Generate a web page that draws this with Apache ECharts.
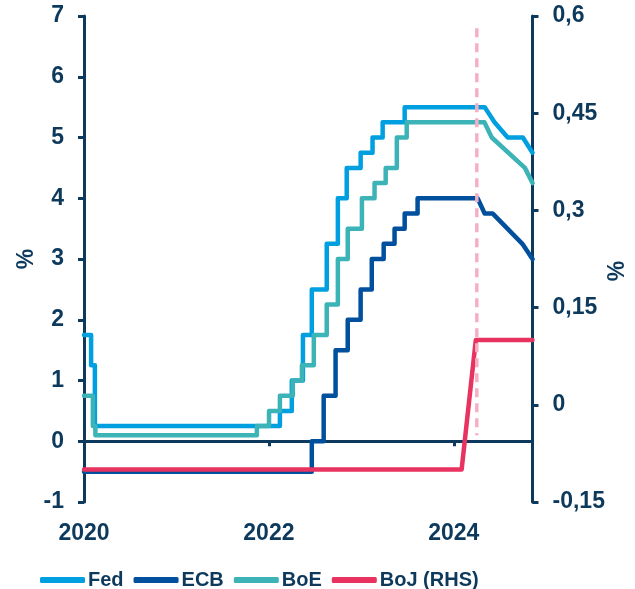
<!DOCTYPE html>
<html>
<head>
<meta charset="utf-8">
<script src="https://cdn.jsdelivr.net/npm/echarts@6/dist/echarts.min.js"></script>
<style>html,body{margin:0;padding:0;background:#fff}#c{width:635px;height:589px}</style>
</head>
<body>
<div id="c"></div>
<script>
// ---- data (change dates / values) ----
const fedDates = ['2020-01-01','2020-01-29','2020-02-13','2022-02-13','2022-04-01','2022-05-15','2022-06-19','2022-08-17','2022-09-30','2022-11-04','2022-12-29','2023-02-14','2023-03-26','2023-06-21'];
const fedRates = [1.75,1.25,0.25,0.5,1.0,1.75,2.5,3.25,4.0,4.5,4.75,5.0,5.25,5.5];
const fedFcDates = ['2024-05-02','2024-06-10','2024-08-01','2024-09-30','2024-11-07'];
const fedFcRates = [5.5,5.25,5.0,5.0,4.75];

const ecbDates = ['2020-01-01','2022-06-19','2022-08-05','2022-09-21','2022-11-08','2022-12-29','2023-02-11','2023-03-30','2023-05-12','2023-06-21','2023-08-11'];
const ecbRates = [-0.5,0.0,0.75,1.5,2.0,2.5,3.0,3.25,3.5,3.75,4.0];
const ecbFcDates = ['2024-04-04','2024-05-02','2024-06-02','2024-09-28','2024-11-07'];
const ecbFcRates = [4.0,3.75,3.75,3.25,3.0];

const boeDates = ['2020-01-01','2020-02-05','2020-02-15','2021-11-14','2022-01-01','2022-02-13','2022-04-05','2022-05-11','2022-06-27','2022-08-17','2022-09-30','2022-11-08','2023-01-03','2023-02-22','2023-04-07','2023-05-21','2023-06-29'];
const boeRates = [0.75,0.25,0.1,0.25,0.5,0.75,1.0,1.25,1.75,2.25,3.0,3.5,4.0,4.25,4.5,5.0,5.25];
const boeFcDates = ['2024-05-01','2024-05-30','2024-10-08','2024-11-07'];
const boeFcRates = [5.25,5.0,4.5,4.25];

const bojDates = ['2020-01-01','2024-02-01','2024-03-28','2024-11-07'];
const bojRates = [-0.1,-0.1,0.1,0.1];

const todayDate = '2024-04-01';
const todayRange = [6.8, 0.1];

const xStart = '2020-01-01';
const xEnd = '2024-11-07';
const leftTicks = {min: -1, max: 7, interval: 1};
const rightTicks = {min: -0.15, max: 0.6, interval: 0.15};
const legendNames = ['Fed','ECB','BoE','BoJ (RHS)'];

// ---- helpers ----
function toYear(d){
  return 2020 + (Date.parse(d + 'T00:00:00Z') - Date.UTC(2020,0,1)) / (365.25*864e5);
}
function stepSeries(dates, rates, fcDates, fcRates){
  const pts = [];
  for (let i = 0; i < dates.length; i++){
    const x = toYear(dates[i]);
    if (i > 0) pts.push([x, rates[i-1]]);
    pts.push([x, rates[i]]);
  }
  for (let i = 0; i < fcDates.length; i++) pts.push([toYear(fcDates[i]), fcRates[i]]);
  return pts;
}
function linePts(dates, rates){ return dates.map((d,i)=>[toYear(d), rates[i]]); }

const NAVY = '#0D3A5C';
const FONT = 'Liberation Sans, Arial, sans-serif';
const txt = {color: NAVY, fontFamily: FONT, fontWeight: 'bold', fontSize: 23};
const colors = {Fed:'#009FE0', ECB:'#00509E', BoE:'#3CB4B7', BoJ:'#E8325F'};

const chart = echarts.init(document.getElementById('c'), null, {renderer:'canvas'});
const xMin = toYear(xStart), xMax = toYear(xEnd);

function lineSeries(name, data, color, yIdx){
  return {name, type:'line', data, xAxisIndex:0, yAxisIndex:yIdx, showSymbol:false, symbol:'none',
    lineStyle:{color, width:4.5, join:'round', cap:'round'}, itemStyle:{color}, animation:false, silent:true};
}

chart.setOption({
  animation:false,
  grid:{left:84, right:102.5, top:16, bottom:87, containLabel:false, outerBoundsMode:'none'},
  legend:{
    data: legendNames, left:35, top:565, itemWidth:45, itemHeight:6, itemGap:10,
    icon:'roundRect',
    textStyle:{color:NAVY, fontFamily:FONT, fontWeight:'bold', fontSize:20, padding:[0,0,0,-2]}
  },
  xAxis:[
    {type:'value', min:xMin, max:xMax, interval:2, position:'bottom',
     axisLine:{show:false, onZero:false}, axisTick:{show:false}, splitLine:{show:false},
     axisLabel:Object.assign({margin:20, showMaxLabel:false,
       formatter:v => Math.abs(v - Math.round(v)) < 1e-6 ? String(Math.round(v)) : ''}, txt)},
    {type:'value', min:xMin, max:xMax, interval:2, position:'bottom',
     axisLine:{show:true, onZero:true, lineStyle:{color:NAVY, width:3}},
     axisTick:{show:true, inside:false, length:5, lineStyle:{color:NAVY, width:3}},
     axisLabel:{show:false}, splitLine:{show:false}}
  ],
  yAxis:[
    {type:'value', min:leftTicks.min, max:leftTicks.max, interval:leftTicks.interval, position:'left',
     name:'%', nameLocation:'middle', nameGap:46, nameRotate:90, nameMoveOverlap:false, nameTextStyle:txt,
     axisLine:{show:true, onZero:false, lineStyle:{color:NAVY, width:3}},
     axisTick:{show:true, length:6, lineStyle:{color:NAVY, width:3}},
     axisLabel:Object.assign({margin:20}, txt), splitLine:{show:false}},
    {type:'value', min:rightTicks.min, max:rightTicks.max, interval:rightTicks.interval, position:'right',
     name:'%', nameLocation:'middle', nameGap:74, nameRotate:90, nameMoveOverlap:false,
     nameTextStyle:Object.assign({padding:[0,24,0,0]}, txt),
     axisLine:{show:true, onZero:false, lineStyle:{color:NAVY, width:3}},
     axisTick:{show:true, length:6, lineStyle:{color:NAVY, width:3}},
     axisLabel:Object.assign({margin:20, formatter:v => {
        const r = Math.round(v*100)/100; return String(r).replace('.', ',');
     }}, txt), splitLine:{show:false}}
  ],
  series:[
    lineSeries('Fed', stepSeries(fedDates, fedRates, fedFcDates, fedFcRates), colors.Fed, 0),
    lineSeries('ECB', stepSeries(ecbDates, ecbRates, ecbFcDates, ecbFcRates), colors.ECB, 0),
    lineSeries('BoE', stepSeries(boeDates, boeRates, boeFcDates, boeFcRates), colors.BoE, 0),
    lineSeries('BoJ (RHS)', linePts(bojDates, bojRates), colors.BoJ, 1),
    {name:'today', type:'line', xAxisIndex:0, yAxisIndex:0, showSymbol:false, symbol:'none', silent:true,
     data:[[toYear(todayDate), todayRange[0]],[toYear(todayDate), todayRange[1]]],
     lineStyle:{color:'#F5AFC4', width:3.5, type:[9,6]}, z:5}
  ]
});
</script>
</body>
</html>
